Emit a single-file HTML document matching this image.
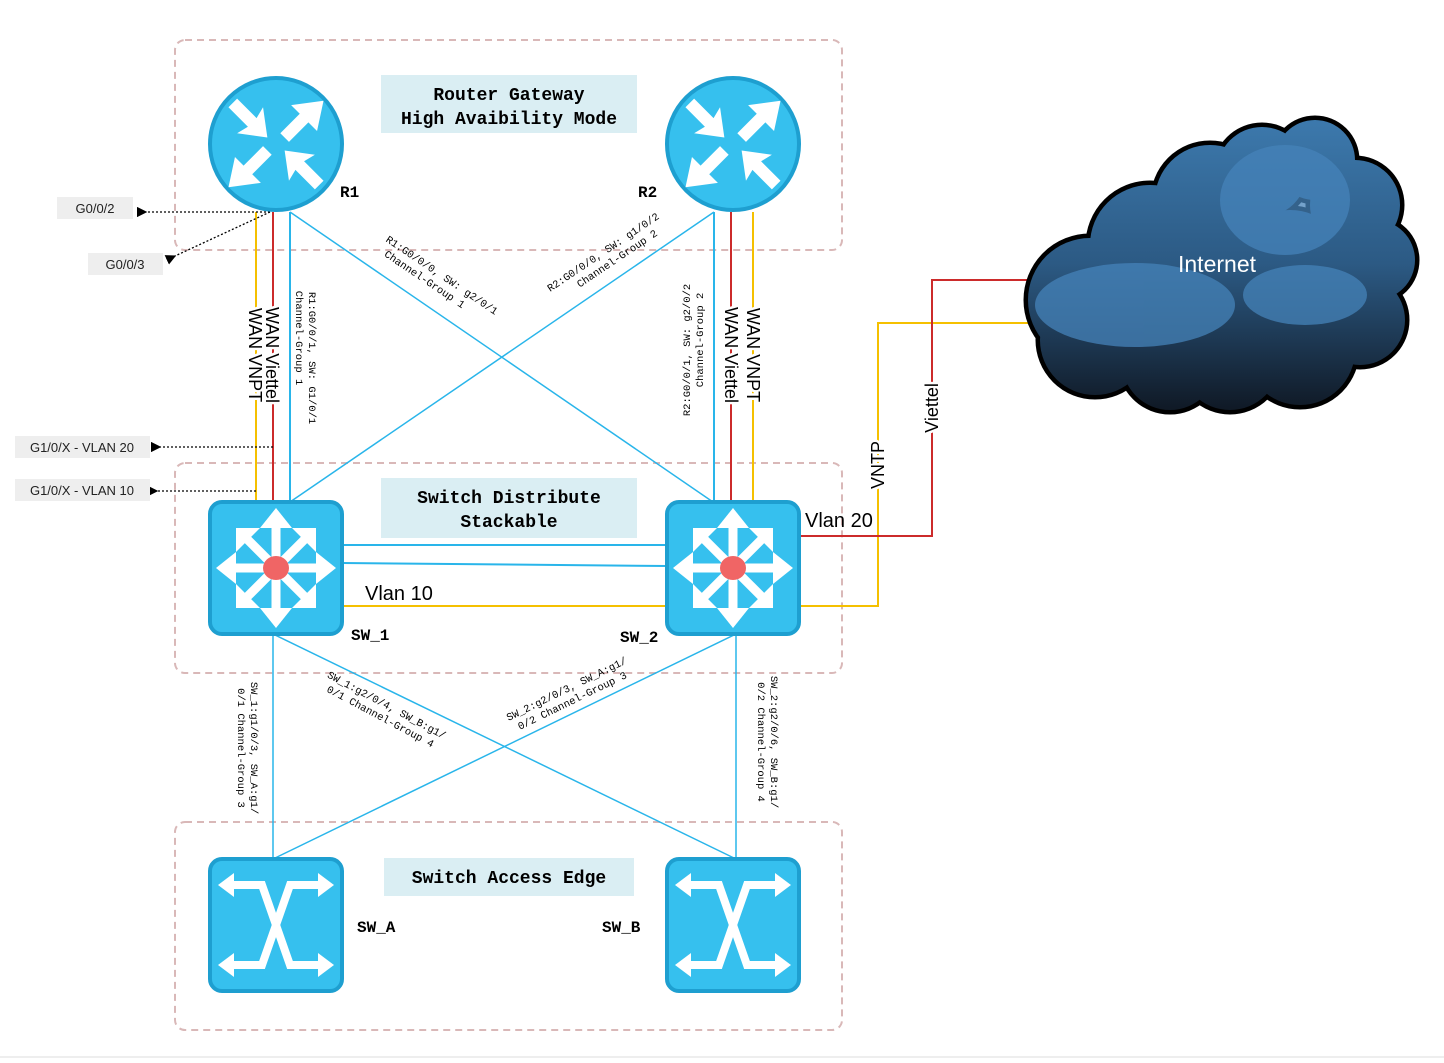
<!DOCTYPE html>
<html><head><meta charset="utf-8"><style>
html,body{margin:0;padding:0;background:#fff;}
svg{display:block;}
.mono{font-family:"Liberation Mono",monospace;}
.sans{font-family:"Liberation Sans",sans-serif;}
</style></head><body>
<svg width="1444" height="1063" viewBox="0 0 1444 1063" xmlns="http://www.w3.org/2000/svg">
<defs>
<linearGradient id="cg" gradientUnits="userSpaceOnUse" x1="0" y1="115" x2="0" y2="412">
<stop offset="0" stop-color="#3d7aae"/><stop offset="0.5" stop-color="#2c5a84"/><stop offset="1" stop-color="#0f1824"/>
</linearGradient>
<marker id="ah" markerWidth="8" markerHeight="8" refX="1" refY="4" orient="auto"><path d="M8,0 L0,4 L8,8 z" fill="#000"/></marker>
<g id="router">
<circle r="66" fill="#36c0ee" stroke="#1e9fd0" stroke-width="4"/>
<g fill="#fff" transform="scale(1.08)">
<path d="M-44,-34 L-36,-42 L-18,-24 L-12,-34 L-8,-6 L-36,-10 L-26,-16 z"/>
<path d="M44,-40 L38,-12 L30,-20 L12,-2 L4,-10 L22,-28 L14,-36 z"/>
<path d="M-44,40 L-38,12 L-30,20 L-12,2 L-4,10 L-22,28 L-14,36 z"/>
<path d="M44,34 L36,42 L18,24 L12,34 L8,6 L36,10 L26,16 z"/>
</g>
</g>
<g id="dist">
<rect x="-66" y="-66" width="132" height="132" rx="12" fill="#36c0ee" stroke="#1e9fd0" stroke-width="4"/>
<g stroke="#fff" stroke-width="9">
<line x1="0" y1="-44" x2="0" y2="44"/><line x1="-44" y1="0" x2="44" y2="0"/>
<line x1="-32" y1="-32" x2="32" y2="32"/><line x1="32" y1="-32" x2="-32" y2="32"/>
</g>
<g fill="#fff">
<path d="M0,-60 L-16,-40 L16,-40 z"/><path d="M0,60 L-16,40 L16,40 z"/>
<path d="M-60,0 L-40,-16 L-40,16 z"/><path d="M60,0 L40,-16 L40,16 z"/>
<path d="M-40,-40 L-40,-16 L-16,-40 z"/><path d="M40,-40 L40,-16 L16,-40 z"/>
<path d="M-40,40 L-40,16 L-16,40 z"/><path d="M40,40 L40,16 L16,40 z"/>
</g>
<ellipse rx="13" ry="12" fill="#f06565"/>
</g>
<g id="acc">
<rect x="-66" y="-66" width="132" height="132" rx="12" fill="#36c0ee" stroke="#1e9fd0" stroke-width="4"/>
<g stroke="#fff" stroke-width="8" fill="none">
<path d="M-44,-40 L-14,-40 L14,40 L44,40"/>
<path d="M-44,40 L-14,40 L14,-40 L44,-40"/>
</g>
<g fill="#fff">
<path d="M-58,-40 L-42,-52 L-42,-28 z"/><path d="M58,-40 L42,-52 L42,-28 z"/>
<path d="M-58,40 L-42,52 L-42,28 z"/><path d="M58,40 L42,52 L42,28 z"/>
</g>
</g>
<g id="cloudc">
<circle cx="1090" cy="300" r="62"/><circle cx="1150" cy="245" r="60"/><circle cx="1210" cy="200" r="55"/>
<circle cx="1262" cy="172" r="45"/><circle cx="1315" cy="160" r="40"/><circle cx="1355" cy="205" r="45"/>
<circle cx="1375" cy="260" r="40"/><circle cx="1360" cy="320" r="45"/><circle cx="1300" cy="350" r="55"/>
<circle cx="1230" cy="360" r="50"/><circle cx="1170" cy="362" r="48"/><circle cx="1095" cy="340" r="55"/>
<circle cx="1200" cy="300" r="80"/><circle cx="1290" cy="270" r="60"/>
</g>
</defs>

<g fill="none" stroke="#d9b8b8" stroke-width="2" stroke-dasharray="7,5">
<rect x="175" y="40" width="667" height="210" rx="10"/>
<rect x="175" y="463" width="667" height="210" rx="10"/>
<rect x="175" y="822" width="667" height="208" rx="10"/>
</g>
<line x1="0" y1="1057" x2="1444" y2="1057" stroke="#ddd" stroke-width="1"/>

<rect x="381" y="75" width="256" height="58" fill="#daeef3"/>
<text x="509" y="100" text-anchor="middle" class="mono" font-weight="bold" font-size="18">Router Gateway</text>
<text x="509" y="124" text-anchor="middle" class="mono" font-weight="bold" font-size="18">High Avaibility Mode</text>
<rect x="381" y="478" width="256" height="60" fill="#daeef3"/>
<text x="509" y="503" text-anchor="middle" class="mono" font-weight="bold" font-size="18">Switch Distribute</text>
<text x="509" y="527" text-anchor="middle" class="mono" font-weight="bold" font-size="18">Stackable</text>
<rect x="384" y="858" width="250" height="38" fill="#daeef3"/>
<text x="509" y="883" text-anchor="middle" class="mono" font-weight="bold" font-size="18">Switch Access Edge</text>

<g stroke-width="2" fill="none">
<line x1="256" y1="212" x2="256" y2="502" stroke="#f5c000"/>
<line x1="273" y1="212" x2="273" y2="502" stroke="#cc2b2b"/>
<line x1="290" y1="212" x2="290" y2="502" stroke="#29b5ea"/>
<line x1="714" y1="212" x2="714" y2="502" stroke="#29b5ea"/>
<line x1="731" y1="212" x2="731" y2="502" stroke="#cc2b2b"/>
<line x1="753" y1="212" x2="753" y2="502" stroke="#f5c000"/>
<line x1="290" y1="212" x2="713" y2="502" stroke="#29b5ea" stroke-width="1.5"/>
<line x1="714" y1="212" x2="290" y2="502" stroke="#29b5ea" stroke-width="1.5"/>
<line x1="342" y1="545" x2="667" y2="545" stroke="#29b5ea"/>
<line x1="342" y1="563" x2="667" y2="566" stroke="#29b5ea"/>
<path d="M342,606 L878,606 L878,323 L1030,323" stroke="#f5c000"/>
<path d="M799,536 L932,536 L932,280 L1030,280" stroke="#cc2b2b"/>
<line x1="273" y1="634" x2="273" y2="859" stroke="#29b5ea" stroke-width="1.5"/>
<line x1="273" y1="634" x2="736" y2="859" stroke="#29b5ea" stroke-width="1.5"/>
<line x1="736" y1="634" x2="273" y2="859" stroke="#29b5ea" stroke-width="1.5"/>
<line x1="736" y1="634" x2="736" y2="859" stroke="#29b5ea" stroke-width="1.5"/>
</g>
<g stroke="#000" stroke-width="1.3" stroke-dasharray="2,2" fill="none">
<line x1="270" y1="212" x2="146" y2="212" marker-end="url(#ah)"/>
<line x1="270" y1="212" x2="175" y2="256" marker-end="url(#ah)"/>
<line x1="273" y1="447" x2="160" y2="447" marker-end="url(#ah)"/>
<line x1="256" y1="491" x2="157" y2="491" marker-end="url(#ah)"/>
</g>
<g class="sans" font-size="13" fill="#222">
<rect x="57" y="197" width="76" height="22" fill="#eee"/><text x="95" y="213" text-anchor="middle">G0/0/2</text>
<rect x="88" y="253" width="75" height="22" fill="#eee"/><text x="125" y="269" text-anchor="middle">G0/0/3</text>
<rect x="15" y="436" width="135" height="22" fill="#eee"/><text x="82" y="452" text-anchor="middle">G1/0/X - VLAN 20</text>
<rect x="15" y="479" width="135" height="22" fill="#eee"/><text x="82" y="495" text-anchor="middle">G1/0/X - VLAN 10</text>
</g>

<use href="#cloudc" stroke="#000" stroke-width="9" fill="#000"/>
<use href="#cloudc" fill="url(#cg)"/>
<g fill="#4583b9" opacity="0.75">
<ellipse cx="1135" cy="305" rx="100" ry="42"/>
<ellipse cx="1285" cy="200" rx="65" ry="55"/>
<ellipse cx="1305" cy="295" rx="62" ry="30"/>
</g>
<text x="1217" y="272" text-anchor="middle" class="sans" font-size="23" fill="#fff">Internet</text>

<use href="#router" x="276" y="144"/>
<use href="#router" x="733" y="144"/>
<use href="#dist" x="276" y="568"/>
<use href="#dist" x="733" y="568"/>
<use href="#acc" x="276" y="925"/>
<use href="#acc" x="733" y="925"/>

<g class="mono" font-weight="bold" font-size="16">
<text x="340" y="197">R1</text><text x="638" y="197">R2</text>
<text x="351" y="640">SW_1</text><text x="620" y="642">SW_2</text>
<text x="357" y="932">SW_A</text><text x="602" y="932">SW_B</text>
</g>

<g class="sans" font-size="18" stroke="#fff" stroke-width="5" paint-order="stroke" fill="#000">
<text transform="translate(266,355) rotate(90)" text-anchor="middle">WAN Viettel</text>
<text transform="translate(249,355) rotate(90)" text-anchor="middle">WAN VNPT</text>
<text transform="translate(725,355) rotate(90)" text-anchor="middle">WAN Viettel</text>
<text transform="translate(747,355) rotate(90)" text-anchor="middle">WAN VNPT</text>
<text transform="translate(884,465) rotate(-90)" text-anchor="middle">VNTP</text>
<text transform="translate(938,408) rotate(-90)" text-anchor="middle">Viettel</text>
</g>
<g class="sans" font-size="20">
<text x="805" y="527">Vlan 20</text>
<text x="365" y="600">Vlan 10</text>
</g>

<g class="mono" font-size="10.5" fill="#000">
<g transform="translate(309,358) rotate(90)" text-anchor="middle"><text y="0">R1:G0/0/1, SW: G1/0/1</text><text x="-20" y="13">Channel-Group 1</text></g>
<g transform="translate(690,350) rotate(-90)" text-anchor="middle"><text y="0">R2:G0/0/1, SW: g2/0/2</text><text x="10" y="13">Channel-Group 2</text></g>
<g transform="translate(440,278) rotate(34)" text-anchor="middle"><text y="0">R1:G0/0/0, SW: g2/0/1</text><text x="-12" y="13">Channel-Group 1</text></g>
<g transform="translate(605,255) rotate(-34)" text-anchor="middle"><text y="0">R2:G0/0/0, SW: g1/0/2</text><text x="8" y="13">Channel-Group 2</text></g>
<g transform="translate(251,748) rotate(90)" text-anchor="middle"><text y="0">SW_1:g1/0/3, SW_A:g1/</text><text y="13">0/1 Channel-Group 3</text></g>
<g transform="translate(771,742) rotate(90)" text-anchor="middle"><text y="0">SW_2:g2/0/6, SW_B:g1/</text><text y="13">0/2 Channel-Group 4</text></g>
<g transform="translate(385,708) rotate(28)" text-anchor="middle"><text y="0">SW_1:g2/0/4, SW_B:g1/</text><text y="13">0/1 Channel-Group 4</text></g>
<g transform="translate(568,692) rotate(-26)" text-anchor="middle"><text y="0">SW_2:g2/0/3, SW_A:g1/</text><text y="13">0/2 Channel-Group 3</text></g>
</g>
</svg>
</body></html>
